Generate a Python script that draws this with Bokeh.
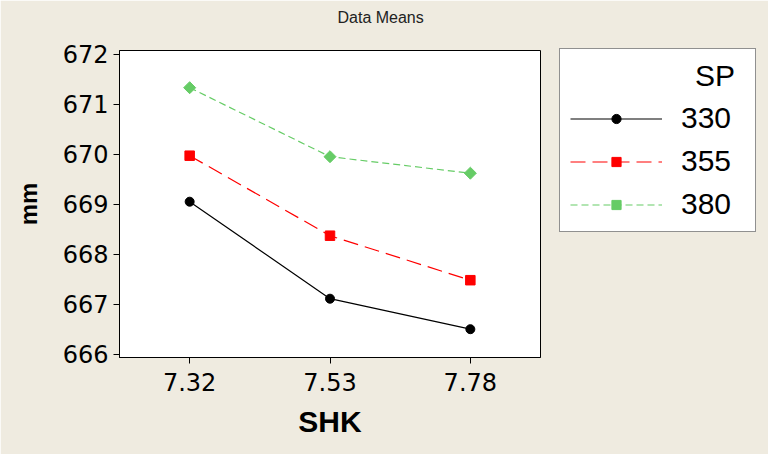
import numpy as np
from bokeh.plotting import figure
from bokeh.models import (FactorRange, Range1d, Legend, LegendItem, FixedTicker, Title)
from bokeh.embed import file_html
from bokeh.resources import INLINE

# ---- data ----
shk = ["7.32", "7.53", "7.78"]
sp_levels = ["330", "355", "380"]
mm_330 = [669.05, 667.11, 666.50]
mm_355 = [669.97, 668.37, 667.48]
mm_380 = [671.33, 669.95, 669.62]
y_ticks = [666, 667, 668, 669, 670, 671, 672]

BG = "#EFEBE0"
GREEN = "#66CC66"

p = figure(frame_width=421, frame_height=307,
           x_range=FactorRange(*shk), y_range=Range1d(665.934, 672.074),
           output_backend="svg", toolbar_location=None,
           min_border_left=119, min_border_right=220,
           min_border_top=50, min_border_bottom=97)
p.background_fill_color = "white"
p.border_fill_color = BG
p.outline_line_color = "black"
p.outline_line_width = 1
p.xgrid.visible = False
p.ygrid.visible = False

# title: a thin spacer panel next to the frame, then the real title above it
p.add_layout(Title(text=" ", text_font_size="2px", standoff=21), "above")
p.add_layout(Title(text="Data Means", text_font="Liberation Sans",
                   text_font_size="16px", text_font_style="normal",
                   text_color="#222222", align="left", offset=218, standoff=0),
             "above")

# axes
for ax in (p.xaxis[0], p.yaxis[0]):
    ax.axis_line_color = "black"
    ax.major_tick_line_color = "black"
    ax.major_tick_in = 0
    ax.major_tick_out = 6
    ax.minor_tick_line_color = None
    ax.major_label_text_font = "DejaVu Sans"
    ax.major_label_text_font_size = "24px"
    ax.major_label_text_color = "black"
    ax.axis_label_text_font = "Liberation Sans"
    ax.axis_label_text_font_style = "bold"
    ax.axis_label_text_color = "black"

p.yaxis.ticker = FixedTicker(ticks=y_ticks)
p.yaxis.major_label_standoff = 5
p.yaxis.axis_label = "mm"
p.yaxis.axis_label_text_font_size = "24px"
p.yaxis.axis_label_standoff = 18

p.xaxis.major_label_standoff = 9
p.xaxis.axis_label = "SHK"
p.xaxis.axis_label_text_font_size = "30px"
p.xaxis.axis_label_standoff = 11

# series
l1 = p.line(shk, mm_330, line_color="black", line_width=1.2)
m1 = p.scatter(shk, mm_330, marker="circle", size=9, color="black")
l2 = p.line(shk, mm_355, line_color="red", line_width=1.2, line_dash="15 7")
m2 = p.scatter(shk, mm_355, marker="square", size=9.5, color="red")
l3 = p.line(shk, mm_380, line_color=GREEN, line_width=1.2, line_dash="7 4")
m3 = p.scatter(shk, mm_380, marker="square", angle=np.pi / 4, size=8.5, color=GREEN)

legend = Legend(items=[LegendItem(label=sp_levels[0], renderers=[l1, m1]),
                       LegendItem(label=sp_levels[1], renderers=[l2, m2]),
                       LegendItem(label=sp_levels[2], renderers=[l3, m3])],
                location=(19, 125),
                title="\u00a0" * 15 + "SP",
                title_text_font="Liberation Sans", title_text_font_size="30px",
                title_text_font_style="normal", title_text_color="black",
                title_standoff=8,
                label_text_font="Liberation Sans", label_text_font_size="30px",
                label_text_color="black",
                glyph_width=92, glyph_height=23, label_height=23,
                label_width=64, label_standoff=19,
                spacing=9, padding=10, margin=0,
                border_line_color="#222222", border_line_width=1.2,
                background_fill_color="white", background_fill_alpha=1)
p.add_layout(legend, "right")

open("out.html", "w").write(file_html(p, INLINE))
